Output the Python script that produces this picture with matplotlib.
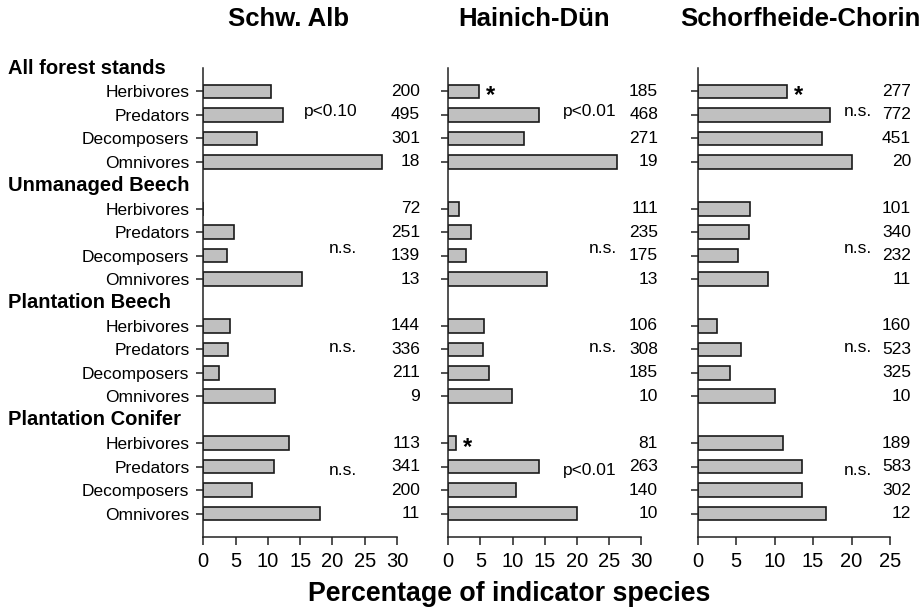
import numpy as np
import matplotlib
matplotlib.use('Agg')
import matplotlib.pyplot as plt
from matplotlib.transforms import blended_transform_factory

plt.rcParams['font.family'] = ['Liberation Sans', 'DejaVu Sans']

regions = ['Schw. Alb', 'Hainich-Dün', 'Schorfheide-Chorin']
groups = ['All forest stands', 'Unmanaged Beech', 'Plantation Beech', 'Plantation Conifer']
guilds = ['Herbivores', 'Predators', 'Decomposers', 'Omnivores']

# percentage of indicator species (rows = groups, cols = guilds)
alb_pct = [[10.5, 12.4, 8.3, 27.7], [0.0, 4.8, 3.6, 15.3], [4.2, 3.9, 2.4, 11.1], [13.3, 10.9, 7.5, 18.1]]
hai_pct = [[4.8, 14.1, 11.7, 26.2], [1.7, 3.6, 2.8, 15.3], [5.6, 5.4, 6.4, 9.9], [1.2, 14.1, 10.6, 20.0]]
sch_pct = [[11.6, 17.2, 16.2, 20.0], [6.8, 6.7, 5.2, 9.1], [2.5, 5.6, 4.2, 10.0], [11.1, 13.6, 13.6, 16.7]]

# number of species
alb_n = [[200, 495, 301, 18], [72, 251, 139, 13], [144, 336, 211, 9], [113, 341, 200, 11]]
hai_n = [[185, 468, 271, 19], [111, 235, 175, 13], [106, 308, 185, 10], [81, 263, 140, 10]]
sch_n = [[277, 772, 451, 20], [101, 340, 232, 11], [160, 523, 325, 10], [189, 583, 302, 12]]

# test results
alb_p = ['p<0.10', 'n.s.', 'n.s.', 'n.s.']
hai_p = ['p<0.01', 'n.s.', 'n.s.', 'p<0.01']
sch_p = ['n.s.', 'n.s.', 'n.s.', 'n.s.']

# (group, guild) marked with an asterisk
alb_star = []
hai_star = [(0, 0), (3, 0)]
sch_star = [(0, 0)]

xmax = [30, 30, 25]

pct_all = [alb_pct, hai_pct, sch_pct]
n_all = [alb_n, hai_n, sch_n]
p_all = [alb_p, hai_p, sch_p]
star_all = [alb_star, hai_star, sch_star]

# layout
W, H = 924, 608
fig = plt.figure(figsize=(W / 100, H / 100), dpi=100)
ax_left = [203.3, 448.3, 697.7]
ax_w = [193.7, 193.0, 192.3]
ax_top, ax_bot = 68, 537
p_right = [0.795, 0.872, 0.905]       # right edge of p-value text, axes fraction
n_right = [1.119, 1.087, 1.109]       # right edge of n text, axes fraction
p_row = [1.85, 2.7, 1.9, 2.15]        # row offset of the p-value text within group
title_x = [289, 534, 800]

rows = []
for g in range(len(groups)):
    for k in range(len(guilds)):
        rows.append(g * 5 + 1 + k)
rows = np.array(rows)
labels = guilds * len(groups)

for i in range(3):
    ax = fig.add_axes([ax_left[i] / W, 1 - ax_bot / H, ax_w[i] / W, (ax_bot - ax_top) / H])
    vals = np.array(pct_all[i]).ravel()
    ax.barh(rows, vals, height=0.58, color='#c0c0c0', edgecolor='#1a1a1a', linewidth=1.2, zorder=2)
    ax.set_ylim(20, 0)
    ax.set_xlim(0, xmax[i])
    ax.set_xticks(np.arange(0, xmax[i] + 1, 5))
    ax.set_yticks(rows)
    if i == 0:
        ax.set_yticklabels(labels, fontsize=12.5)
    else:
        ax.set_yticklabels([])
    ax.tick_params(axis='y', length=5, width=1.1, pad=5, color='#222222')
    ax.tick_params(axis='x', length=5.5, width=1.1, pad=5, labelsize=14.5, color='#222222')
    for s in ['top', 'right']:
        ax.spines[s].set_visible(False)
    for s in ['left', 'bottom']:
        ax.spines[s].set_linewidth(1.1)
        ax.spines[s].set_color('#222222')

    tr = blended_transform_factory(ax.transAxes, ax.transData)
    nvals = np.array(n_all[i]).ravel()
    for r, n in zip(rows, nvals):
        ax.text(n_right[i], r, str(n), transform=tr, ha='right', va='center', fontsize=12.5, clip_on=False)
    for g, ptxt in enumerate(p_all[i]):
        ax.text(p_right[i], g * 5 + p_row[g], ptxt, transform=tr, ha='right', va='center', fontsize=12.5)
    for g, k in star_all[i]:
        ax.annotate('*', xy=(pct_all[i][g][k], g * 5 + 1 + k), xytext=(8, -3),
                    textcoords='offset points', ha='center', va='center',
                    fontsize=17, fontweight='bold')

    if i == 0:
        trf = blended_transform_factory(fig.transFigure, ax.transData)
        for g, name in enumerate(groups):
            ax.text(8 / W, g * 5, name, transform=trf, ha='left', va='center',
                    fontsize=14.5, fontweight='bold', clip_on=False)

    fig.text(title_x[i] / W, 1 - 19 / H, regions[i], ha='center', va='center',
             fontsize=18.5, fontweight='bold')

fig.text(509 / W, 1 - 594 / H, 'Percentage of indicator species', ha='center', va='center',
         fontsize=19.3, fontweight='bold')

fig.savefig('out.png', dpi=100)
